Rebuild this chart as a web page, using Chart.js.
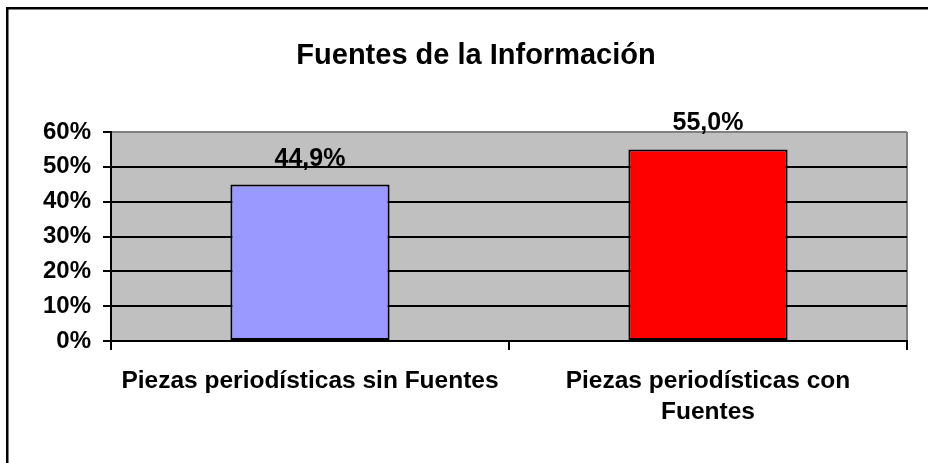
<!DOCTYPE html>
<html lang="es">
  <head>
    <meta charset="UTF-8" />
    <meta name="viewport" content="width=device-width, initial-scale=1.0" />
    <script src="https://cdn.jsdelivr.net/npm/chart.js@4.4.1/dist/chart.umd.min.js"></script>
    <title>Fuentes de la Información</title>
    <style>
      html, body { margin: 0; padding: 0; background: #fff; }
      .chart_wrap { width: 928px; height: 463px; }
    </style>
  </head>
  <body>
    <div class="chart_wrap">
      <canvas id="myChart" width="928" height="463"></canvas>
    </div>

    <script>
      // datos
      const titulo = "Fuentes de la Información";
      const categorias = [
        "Piezas periodísticas sin Fuentes",
        ["Piezas periodísticas con", "Fuentes"],
      ];
      const porcentajes = [44.9, 55.0];
      const colores = ["#9999FF", "#FF0000"];
      const yTicks = [0, 10, 20, 30, 40, 50, 60];

      const fontFam = "'Liberation Sans', Arial, sans-serif";

      // marco exterior, titulo y fondo gris del area de trazado
      // (el grafico original esta recortado a la derecha, por eso el titulo no queda centrado)
      const fondoPlugin = {
        id: "fondo",
        beforeDraw(chart) {
          const ctx = chart.ctx;
          const a = chart.chartArea;
          ctx.save();
          ctx.fillStyle = "#000";
          ctx.fillRect(6, 7, 2.5, 500);
          ctx.fillRect(6, 7, 1000, 2.5);
          ctx.font = "bold 29px " + fontFam;
          ctx.textAlign = "center";
          ctx.textBaseline = "alphabetic";
          ctx.fillText(titulo, 476, 63.5);
          ctx.fillStyle = "#C0C0C0";
          ctx.fillRect(a.left, a.top, a.right - a.left, a.bottom - a.top);
          ctx.strokeStyle = "#808080";
          ctx.lineWidth = 2;
          ctx.beginPath();
          ctx.moveTo(a.right, a.top);
          ctx.lineTo(a.right, a.bottom);
          ctx.stroke();
          ctx.restore();
        },
      };

      // etiquetas de valor encima de cada barra
      const etiquetasPlugin = {
        id: "etiquetas",
        afterDatasetsDraw(chart) {
          const ctx = chart.ctx;
          const meta = chart.getDatasetMeta(0);
          ctx.save();
          ctx.font = "bold 25px " + fontFam;
          ctx.fillStyle = "#000";
          ctx.textAlign = "center";
          ctx.textBaseline = "alphabetic";
          meta.data.forEach((bar, i) => {
            const txt = porcentajes[i].toFixed(1).replace(".", ",") + "%";
            ctx.fillText(txt, bar.x, bar.y - 19);
          });
          ctx.restore();
        },
      };

      const data = {
        labels: categorias,
        datasets: [
          {
            data: porcentajes,
            backgroundColor: colores,
            borderColor: "#000",
            borderWidth: 2,
            borderSkipped: false,
            barPercentage: 0.4,
            categoryPercentage: 1,
          },
        ],
      };

      const config = {
        type: "bar",
        data: data,
        plugins: [fondoPlugin, etiquetasPlugin],
        options: {
          responsive: false,
          animation: false,
          devicePixelRatio: 1,
          layout: { padding: { left: 0, right: 21, top: 132, bottom: 0 } },
          plugins: {
            legend: { display: false },
            tooltip: { enabled: false },
            title: { display: false },
          },
          scales: {
            x: {
              afterFit: (s) => { s.height = 122; },
              grid: {
                offset: true,
                drawOnChartArea: false,
                drawTicks: true,
                tickLength: 9,
                color: "#000",
                lineWidth: 2,
              },
              border: { display: true, color: "#000", width: 2 },
              ticks: {
                color: "#000",
                autoSkip: false,
                maxRotation: 0,
                padding: 16,
                font: { family: fontFam, size: 24.5, weight: "bold", lineHeight: 1.25 },
              },
            },
            y: {
              min: yTicks[0],
              max: yTicks[yTicks.length - 1],
              afterFit: (s) => { s.width = 111; },
              afterBuildTicks: (s) => { s.ticks = yTicks.map((v) => ({ value: v })); },
              grid: {
                color: (c) => (c.tick && c.tick.value === 60 ? "#808080" : "#000"),
                lineWidth: 2,
                tickLength: 8,
                tickColor: "#000",
              },
              border: { display: true, color: "#000", width: 2 },
              ticks: {
                color: "#000",
                padding: 12,
                callback: (v) => v + "%",
                font: { family: fontFam, size: 24, weight: "bold" },
              },
            },
          },
        },
      };

      const myChart = new Chart(document.getElementById("myChart"), config);
    </script>
  </body>
</html>
